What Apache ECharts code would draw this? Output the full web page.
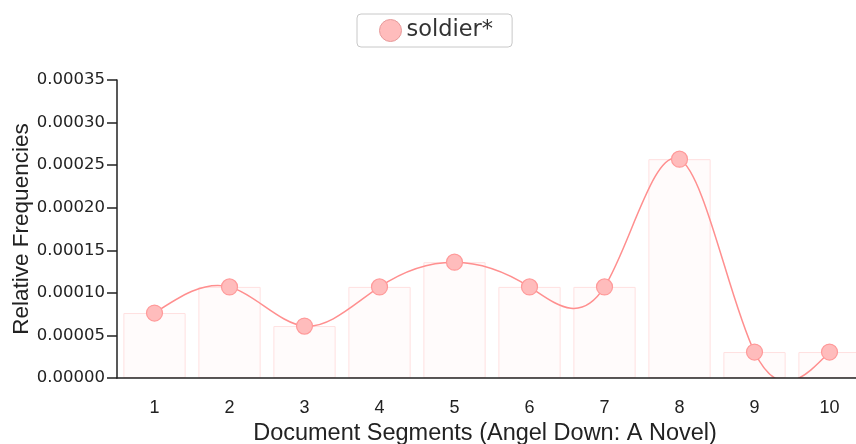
<!DOCTYPE html>
<html lang="en">
<head>
    <meta charset="UTF-8">
    <title>soldier*</title>
    <script src="https://cdn.jsdelivr.net/npm/echarts@6/dist/echarts.min.js"></script>
    <style>
        html, body { margin: 0; padding: 0; background: #fff; }
        #chart { width: 856px; height: 444px; }
    </style>
</head>
<body>
<div id="chart"></div>
<script type="text/javascript">
    // segment labels and relative frequencies
    var segments = ['1', '2', '3', '4', '5', '6', '7', '8', '9', '10'];
    var soldier = [0.0000763, 0.000107, 0.000061, 0.000107, 0.000136, 0.000107, 0.000107, 0.000257, 0.0000305, 0.0000305];

    var FONT = 'Liberation Sans, Arial, sans-serif';
    var WIDE = 'DejaVu Sans, Verdana, sans-serif';

    // natural cubic spline control points (same idea as d3.curveNatural)
    function naturalCP(x) {
        var n = x.length - 1, m, i;
        var a = new Array(n), b = new Array(n), r = new Array(n);
        a[0] = 0; b[0] = 2; r[0] = x[0] + 2 * x[1];
        for (i = 1; i < n - 1; ++i) { a[i] = 1; b[i] = 4; r[i] = 4 * x[i] + 2 * x[i + 1]; }
        a[n - 1] = 2; b[n - 1] = 7; r[n - 1] = 8 * x[n - 1] + x[n];
        for (i = 1; i < n; ++i) { m = a[i] / b[i - 1]; b[i] -= m; r[i] -= m * r[i - 1]; }
        a[n - 1] = r[n - 1] / b[n - 1];
        for (i = n - 2; i >= 0; --i) a[i] = (r[i] - a[i + 1]) / b[i];
        b[n - 1] = (x[n] + a[n - 1]) / 2;
        for (i = 0; i < n - 1; ++i) b[i] = 2 * x[i + 1] - a[i + 1];
        return [a, b];
    }

    function renderCurve(params, api) {
        if (params.dataIndex !== 0) return null;
        var xs = [], ys = [];
        for (var i = 0; i < soldier.length; i++) {
            var p = api.coord([i, soldier[i]]);
            xs.push(p[0]); ys.push(p[1]);
        }
        var px = naturalCP(xs), py = naturalCP(ys);
        var d = 'M' + xs[0] + ',' + ys[0];
        for (var k = 0; k < xs.length - 1; k++) {
            d += 'C' + px[0][k] + ',' + py[0][k] + ',' + px[1][k] + ',' + py[1][k] + ',' + xs[k + 1] + ',' + ys[k + 1];
        }
        var cs = params.coordSys;
        return {
            type: 'path',
            shape: { pathData: d },
            style: { fill: null, stroke: '#ff8f8f', lineWidth: 1.5 },
            clipPath: { type: 'rect', shape: { x: cs.x, y: cs.y - 20, width: cs.width, height: cs.height + 20 } }
        };
    }

    var myChart = echarts.init(document.getElementById('chart'));

    var option = {
        animation: false,
        legend: {
            top: 14,
            left: 357,
            data: [{
                name: 'soldier*',
                icon: 'circle',
                itemStyle: { color: '#ffbcbc', borderColor: '#e69a9a', borderWidth: 1 }
            }],
            itemWidth: 22,
            itemHeight: 22,
            padding: [5, 19, 5, 22],
            borderColor: '#c8c8c8',
            borderWidth: 1,
            borderRadius: 4,
            textStyle: { fontFamily: WIDE, fontSize: 22.5, color: '#333' }
        },
        grid: {
            left: 117,
            width: 750,
            top: 80,
            bottom: 66,
            outerBoundsMode: 'none',
            containLabel: false
        },
        xAxis: {
            type: 'category',
            data: segments,
            z: 5,
            name: 'Document Segments (Angel Down: A Novel)',
            nameLocation: 'middle',
            nameGap: 44,
            nameMoveOverlap: false,
            nameTextStyle: { fontFamily: FONT, fontSize: 23.5, color: '#222', padding: [0, 14, 0, 0] },
            axisLine: { lineStyle: { color: '#222', width: 1.5 } },
            axisTick: { alignWithLabel: true, length: 9, lineStyle: { color: '#222', width: 1.5 } },
            axisLabel: { fontFamily: FONT, fontSize: 18, color: '#222', margin: 21 }
        },
        yAxis: {
            type: 'value',
            min: 0,
            max: 0.00035,
            interval: 0.00005,
            z: 5,
            name: 'Relative Frequencies',
            nameLocation: 'middle',
            nameGap: 84,
            nameMoveOverlap: false,
            nameTextStyle: { fontFamily: FONT, fontSize: 22.5, color: '#222' },
            splitLine: { show: false },
            axisLine: { show: true, lineStyle: { color: '#222', width: 1.5 } },
            axisTick: { show: true, length: 10, lineStyle: { color: '#222', width: 1.5 } },
            axisLabel: {
                fontFamily: WIDE,
                fontSize: 16.5,
                color: '#222',
                margin: 12,
                formatter: function (v) { return v.toFixed(5); }
            }
        },
        series: [
            {
                name: 'bars',
                type: 'bar',
                data: soldier,
                barWidth: '83%',
                silent: true,
                itemStyle: { color: 'rgba(255,235,235,0.2)', borderColor: '#ffe0e0', borderWidth: 1 }
            },
            {
                name: 'soldier*',
                type: 'custom',
                data: soldier.map(function (v, i) { return [i, v]; }),
                renderItem: renderCurve,
                silent: true,
                z: 3
            },
            {
                name: 'soldier*',
                type: 'scatter',
                data: soldier,
                symbol: 'circle',
                symbolSize: 16,
                z: 6,
                itemStyle: { color: '#ffbcbc', borderColor: '#ff9a9a', borderWidth: 1.2, opacity: 1 }
            }
        ]
    };
    myChart.setOption(option);
</script>
</body>
</html>
